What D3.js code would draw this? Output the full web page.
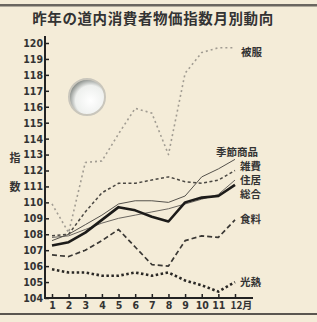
<!DOCTYPE html>
<html>
<head>
<meta charset="utf-8">
<script src="https://cdn.jsdelivr.net/npm/d3@7"></script>
<style>
  body { margin: 0; background: #f4ecd8; }
  svg { display: block; }
  .tick text { font-family: "DejaVu Sans Condensed", "DejaVu Sans", sans-serif; font-weight: bold; fill: #333; }
  .lbl { font-family: "Noto Sans CJK JP", sans-serif; font-weight: bold; fill: #333; }
</style>
</head>
<body>
<div id="chart"></div>
<script>
// months and y ticks
var months = [1, 2, 3, 4, 5, 6, 7, 8, 9, 10, 11, 12];
var yTicks = [104, 105, 106, 107, 108, 109, 110, 111, 112, 113, 114, 115, 116, 117, 118, 119, 120];

// values
var hifuku   = [109.9, 108.1, 112.5, 112.6, 114.3, 115.9, 115.6, 113.0, 118.1, 119.4, 119.7, 119.7];
var kisetsu  = [107.6, 108.0, 108.6, 109.2, 109.9, 110.1, 110.1, 110.0, 110.4, 111.6, 112.1, 112.7];
var zappi    = [107.9, 108.0, 109.4, 110.6, 111.2, 111.2, 111.4, 111.6, 111.3, 111.2, 111.4, 112.0];
var jukyo    = [107.8, 107.9, 108.3, 108.7, 109.0, 109.2, 109.4, 109.6, 109.9, 110.2, 110.5, 111.4];
var sogo     = [107.3, 107.5, 108.1, 108.9, 109.7, 109.5, 109.1, 108.8, 110.0, 110.3, 110.4, 111.1];
var shokuryo = [106.7, 106.6, 107.0, 107.6, 108.3, 107.2, 106.1, 106.0, 107.6, 107.9, 107.8, 108.9];
var konetsu  = [105.8, 105.6, 105.6, 105.4, 105.4, 105.6, 105.4, 105.6, 105.1, 104.8, 104.4, 105.0];

var W = 317, H = 322;

var svg = d3.select("#chart").append("svg")
  .attr("width", W)
  .attr("height", H);

// frame lines top and bottom
svg.append("rect").attr("x", 0).attr("y", 4).attr("width", W).attr("height", 2.5).attr("fill", "#6a6660");
svg.append("rect").attr("x", 0).attr("y", 313).attr("width", W).attr("height", 2).attr("fill", "#5a5650");

// title
svg.append("text")
  .attr("class", "lbl")
  .attr("x", 153)
  .attr("y", 24)
  .attr("text-anchor", "middle")
  .attr("font-size", 14.5)
  .attr("letter-spacing", 0.6)
  .text("昨年の道内消費者物価指数月別動向");

// punch hole in the paper
var defs = svg.append("defs");
var grad = defs.append("radialGradient").attr("id", "hole").attr("cx", "60%").attr("cy", "60%").attr("r", "60%");
grad.append("stop").attr("offset", "0%").attr("stop-color", "#ffffff");
grad.append("stop").attr("offset", "70%").attr("stop-color", "#eef0ee");
grad.append("stop").attr("offset", "100%").attr("stop-color", "#8f9490");
svg.append("circle")
  .attr("cx", 87).attr("cy", 97).attr("r", 18)
  .attr("fill", "url(#hole)")
  .attr("stroke", "#c9c6bc").attr("stroke-width", 2);

var x = d3.scaleLinear().domain([1, 12]).range([52, 235]);
var y = d3.scaleLinear().domain([104, 120]).range([298, 43]);

// axes
var yAxis = svg.append("g")
  .attr("transform", "translate(45,0)")
  .call(d3.axisLeft(y).tickValues(yTicks).tickSize(-4).tickSizeOuter(0).tickPadding(2));
yAxis.select(".domain").remove();
yAxis.selectAll(".tick line").attr("stroke", "#222").attr("stroke-width", 1.5);
yAxis.selectAll(".tick text").attr("font-size", 10.5);

var xAxis = svg.append("g")
  .attr("transform", "translate(0,298)")
  .call(d3.axisBottom(x).tickValues(months).tickSize(-4).tickSizeOuter(0).tickPadding(4)
    .tickFormat(function (d) { return d == 12 ? "12月" : d; }));
xAxis.select(".domain").remove();
xAxis.selectAll(".tick line").attr("stroke", "#222").attr("stroke-width", 1.5);
xAxis.selectAll(".tick text").attr("font-size", 10.5);
xAxis.selectAll(".tick text").filter(function (d) { return d == 12; })
  .attr("text-anchor", "start").attr("x", -5)
  .style("font-family", "'Noto Sans CJK JP', sans-serif").attr("font-size", 10);

// axis lines
svg.append("line").attr("x1", 45).attr("x2", 45).attr("y1", 36).attr("y2", 299)
  .attr("stroke", "#222").attr("stroke-width", 2);
svg.append("line").attr("x1", 44).attr("x2", 253).attr("y1", 298).attr("y2", 298)
  .attr("stroke", "#222").attr("stroke-width", 2);

// y title
svg.append("text").attr("class", "lbl").attr("x", 15).attr("y", 162)
  .attr("text-anchor", "middle").attr("font-size", 11).text("指");
svg.append("text").attr("class", "lbl").attr("x", 15).attr("y", 191)
  .attr("text-anchor", "middle").attr("font-size", 11).text("数");

var line = d3.line()
  .x(function (d, i) { return x(months[i]); })
  .y(function (d) { return y(d); });

var series = [
  { name: "被服", values: hifuku, color: "#a19c92", width: 1.6, dash: "2,3", lx: 241, ly: 56 },
  { name: "食料", values: shokuryo, color: "#3a3834", width: 1.7, dash: "5,3", lx: 240, ly: 223 },
  { name: "光熱", values: konetsu, color: "#2a2825", width: 2.6, dash: "2.5,2.5", lx: 240, ly: 286 },
  { name: "住居", values: jukyo, color: "#6a6660", width: 1, dash: null, lx: 240, ly: 184 },
  { name: "雑費", values: zappi, color: "#4a4742", width: 1.5, dash: "3,2.5", lx: 240, ly: 170 },
  { name: "季節商品", values: kisetsu, color: "#55524c", width: 1, dash: null, lx: 216, ly: 156 },
  { name: "総合", values: sogo, color: "#1c1b19", width: 2.6, dash: null, lx: 240, ly: 198 }
];

svg.append("g").selectAll("path")
  .data(series)
  .enter()
  .append("path")
  .attr("d", function (d) { return line(d.values); })
  .attr("fill", "none")
  .attr("stroke", function (d) { return d.color; })
  .attr("stroke-width", function (d) { return d.width; })
  .attr("stroke-dasharray", function (d) { return d.dash; })
  .attr("stroke-linejoin", "round");

svg.append("g").selectAll("text")
  .data(series)
  .enter()
  .append("text")
  .attr("class", "lbl")
  .attr("x", function (d) { return d.lx; })
  .attr("y", function (d) { return d.ly; })
  .attr("font-size", 10.5)
  .text(function (d) { return d.name; });
</script>
</body>
</html>
